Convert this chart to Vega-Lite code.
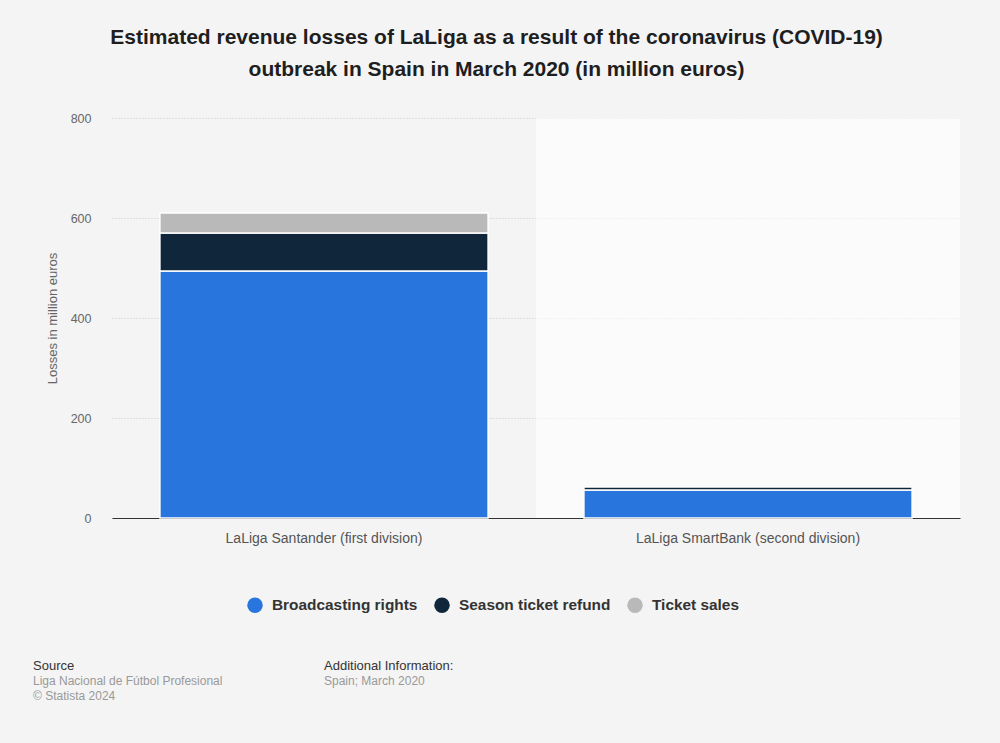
{
  "$schema": "https://vega.github.io/schema/vega-lite/v6.json",
  "background": "#f4f4f4",
  "padding": {"left": 33, "top": 27, "right": 54, "bottom": 42},
  "title": {
    "text": ["Estimated revenue losses of LaLiga as a result of the coronavirus (COVID-19)", "outbreak in Spain in March 2020 (in million euros)"],
    "fontSize": 21,
    "fontWeight": "bold",
    "color": "#1e1e1e",
    "lineHeight": 31.5,
    "anchor": "middle",
    "offset": 32.5
  },
  "datasets": {
    "losses": [
      {"league": "LaLiga Santander (first division)", "type": "Broadcasting rights", "value": 494, "ord": 1},
      {"league": "LaLiga Santander (first division)", "type": "Season ticket refund", "value": 76, "ord": 2},
      {"league": "LaLiga Santander (first division)", "type": "Ticket sales", "value": 40, "ord": 3},
      {"league": "LaLiga SmartBank (second division)", "type": "Broadcasting rights", "value": 56, "ord": 1},
      {"league": "LaLiga SmartBank (second division)", "type": "Season ticket refund", "value": 6.5, "ord": 2},
      {"league": "LaLiga SmartBank (second division)", "type": "Ticket sales", "value": 0, "ord": 3}
    ],
    "highlight": [
      {"league": "LaLiga SmartBank (second division)", "top": 800}
    ]
  },
  "vconcat": [
    {
      "width": 848,
      "height": 400,
      "layer": [
        {
          "data": {"name": "highlight"},
          "mark": {"type": "bar", "fill": "#ffffff", "opacity": 0.6, "width": {"band": 1.2927}},
          "encoding": {
            "x": {
              "field": "league",
              "type": "nominal",
              "sort": ["LaLiga Santander (first division)", "LaLiga SmartBank (second division)"],
              "scale": {"domain": ["LaLiga Santander (first division)", "LaLiga SmartBank (second division)"], "paddingInner": 0.226, "paddingOuter": 0.113},
              "axis": {
                "title": null,
                "labelAngle": 0,
                "labelAlign": "center",
                "bandPosition": 0.5,
                "labelFontSize": 14,
                "labelColor": "#555555",
                "labelPadding": 13,
                "labelLimit": 0,
                "ticks": false,
                "domainColor": "#333333",
                "domainWidth": 1.2
              }
            },
            "y": {"field": "top", "type": "quantitative"}
          }
        },
        {
          "data": {"name": "losses"},
          "mark": {"type": "bar", "stroke": "#ffffff", "strokeWidth": 1.5},
          "encoding": {
            "x": {
              "field": "league",
              "type": "nominal",
              "sort": ["LaLiga Santander (first division)", "LaLiga SmartBank (second division)"],
              "scale": {"domain": ["LaLiga Santander (first division)", "LaLiga SmartBank (second division)"], "paddingInner": 0.226, "paddingOuter": 0.113},
              "axis": {
                "title": null,
                "labelAngle": 0,
                "labelAlign": "center",
                "bandPosition": 0.5,
                "labelFontSize": 14,
                "labelColor": "#555555",
                "labelPadding": 13,
                "labelLimit": 0,
                "ticks": false,
                "domainColor": "#333333",
                "domainWidth": 1.2
              }
            },
            "y": {
              "field": "value",
              "type": "quantitative",
              "stack": "zero",
              "scale": {"domain": [0, 800]},
              "axis": {
                "title": "Losses in million euros",
                "titleFontSize": 13,
                "titleFontWeight": "normal",
                "titleColor": "#666666",
                "titlePadding": 11,
                "values": [0, 200, 400, 600, 800],
                "labelFontSize": 12.5,
                "labelColor": "#666666",
                "labelPadding": 21,
                "ticks": false,
                "domain": false,
                "grid": true,
                "gridColor": "#c8c8c8",
                "gridDash": [1, 2]
              }
            },
            "color": {
              "field": "type",
              "type": "nominal",
              "scale": {
                "domain": ["Broadcasting rights", "Season ticket refund", "Ticket sales"],
                "range": ["#2876dd", "#10263b", "#b9b9b9"]
              },
              "legend": {
                "title": null,
                "orient": "none",
                "legendX": 135,
                "legendY": 479,
                "direction": "horizontal",
                "symbolType": "circle",
                "symbolSize": 240,
                "symbolStrokeWidth": 0,
                "labelFontSize": 15.4,
                "labelFontWeight": "bold",
                "labelColor": "#333333",
                "columnPadding": 16,
                "labelOffset": 9
              }
            },
            "order": {"field": "ord", "type": "quantitative"}
          }
        }
      ]
    },
    {
      "hconcat": [
        {
          "width": 200,
          "height": 1,
          "data": {"values": []},
          "mark": "text",
          "encoding": {},
          "title": {
            "text": "Source",
            "subtitle": ["Liga Nacional de Fútbol Profesional", "© Statista 2024"],
            "orient": "bottom",
            "anchor": "start",
            "dx": -79,
            "fontSize": 13,
            "fontWeight": "normal",
            "color": "#333333",
            "subtitleFontSize": 12,
            "subtitleColor": "#999999",
            "subtitlePadding": 3,
            "subtitleLineHeight": 15,
            "offset": 0
          }
        },
        {
          "width": 200,
          "height": 1,
          "data": {"values": []},
          "mark": "text",
          "encoding": {},
          "title": {
            "text": "Additional Information:",
            "subtitle": ["Spain; March 2020"],
            "orient": "bottom",
            "anchor": "start",
            "dx": -79,
            "fontSize": 13,
            "fontWeight": "normal",
            "color": "#333333",
            "subtitleFontSize": 12,
            "subtitleColor": "#999999",
            "subtitlePadding": 3,
            "subtitleLineHeight": 15,
            "offset": 0
          }
        }
      ],
      "spacing": 12
    }
  ],
  "spacing": 45,
  "resolve": {"legend": {"color": "independent"}},
  "config": {
    "font": "Liberation Sans",
    "view": {"stroke": null}
  }
}
